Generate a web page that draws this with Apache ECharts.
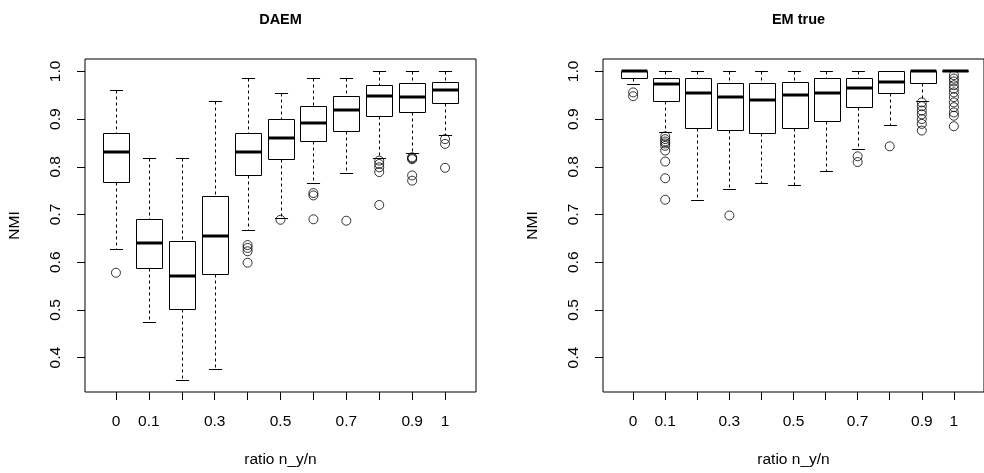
<!DOCTYPE html>
<html><head><meta charset="utf-8">
<script src="https://cdn.jsdelivr.net/npm/echarts@6/dist/echarts.min.js"></script>
<style>html,body{margin:0;padding:0;background:#fff}#c{width:984px;height:473px}</style>
</head><body><div id="c"></div>
<script>
// ---- data ----
const ratios = ['0','0.1','0.2','0.3','0.4','0.5','0.6','0.7','0.8','0.9','1'];
const shownTickLabels = ['0','0.1','0.3','0.5','0.7','0.9','1'];
const yTicks = [0.4, 0.5, 0.6, 0.7, 0.8, 0.9, 1.0];
const panelTitles = ['DAEM', 'EM true'];
const xTitle = 'ratio n_y/n';
const yTitle = 'NMI';

const daemLow  = [0.628, 0.475, 0.354, 0.377, 0.668, 0.693, 0.766, 0.788, 0.819, 0.830, 0.867];
const daemQ1   = [0.768, 0.588, 0.501, 0.576, 0.782, 0.816, 0.854, 0.875, 0.906, 0.914, 0.933];
const daemMed  = [0.831, 0.641, 0.572, 0.655, 0.831, 0.860, 0.892, 0.920, 0.948, 0.947, 0.961];
const daemQ3   = [0.870, 0.690, 0.644, 0.738, 0.870, 0.900, 0.927, 0.948, 0.972, 0.975, 0.977];
const daemHigh = [0.960, 0.819, 0.818, 0.937, 0.987, 0.955, 0.987, 0.987, 1.000, 1.000, 1.000];
const daemOut  = [[0.578], [], [], [], [0.636, 0.630, 0.623, 0.599], [0.689], [0.745, 0.740, 0.690], [0.687],
                  [0.813, 0.806, 0.799, 0.789, 0.720], [0.820, 0.818, 0.816, 0.782, 0.771], [0.858, 0.848, 0.798]];

const emLow  = [0.974, 0.872, 0.730, 0.754, 0.766, 0.762, 0.791, 0.837, 0.887, 0.937, 1.000];
const emQ1   = [0.987, 0.939, 0.881, 0.877, 0.871, 0.881, 0.897, 0.925, 0.955, 0.975, 1.000];
const emMed  = [1.000, 0.974, 0.954, 0.946, 0.940, 0.950, 0.955, 0.965, 0.978, 1.000, 1.000];
const emQ3   = [1.000, 0.987, 0.987, 0.975, 0.975, 0.978, 0.987, 0.987, 1.000, 1.000, 1.000];
const emHigh = [1.000, 1.000, 1.000, 1.000, 1.000, 1.000, 1.000, 1.000, 1.000, 1.000, 1.000];
const emOut  = [[0.956, 0.948], [0.864, 0.858, 0.853, 0.849, 0.844, 0.834, 0.811, 0.776, 0.731], [], [0.698], [], [], [],
                [0.822, 0.810], [0.843], [0.935, 0.927, 0.918, 0.910, 0.900, 0.890, 0.876],
                [0.992, 0.985, 0.979, 0.971, 0.964, 0.956, 0.946, 0.935, 0.925, 0.914, 0.907, 0.885]];

// ---- build ----
const FONT = '"Liberation Sans", Arial, Helvetica, sans-serif';
const pos = ratios.map((r, i) => i + 1);
const shownPos = shownTickLabels.map(l => ratios.indexOf(l) + 1);

function boxData(low, q1, med, q3, high) {
  return ratios.map((r, i) => [i + 1, low[i], q1[i], med[i], q3[i], high[i]]);
}
function outData(out) {
  const d = [];
  out.forEach((arr, i) => arr.forEach(v => d.push([i + 1, v])));
  return d;
}
function renderBox(params, api) {
  const x = api.value(0);
  const c = v => api.coord([x, v]);
  const bw = api.size([0.8, 0])[0];
  const sw = api.size([0.4, 0])[0];
  const pLow = c(api.value(1)), pQ1 = c(api.value(2)), pMed = c(api.value(3)), pQ3 = c(api.value(4)), pHigh = c(api.value(5));
  const cx = Math.round(pMed[0]) + 0.5;
  const ry = y => Math.round(y) + 0.5;
  const solid = {stroke: '#000', lineWidth: 1};
  const dashed = {stroke: '#000', lineWidth: 1, lineDash: [3, 3]};
  const line = (x1, y1, x2, y2, style) => ({type: 'line', shape: {x1, y1, x2, y2}, style});
  const bx = Math.round(cx - bw / 2) + 0.5, bW = Math.round(bw);
  return {type: 'group', children: [
    line(cx, ry(pHigh[1]), cx, ry(pQ3[1]), dashed),
    line(cx, ry(pQ1[1]), cx, ry(pLow[1]), dashed),
    line(cx - sw / 2, ry(pHigh[1]), cx + sw / 2, ry(pHigh[1]), solid),
    line(cx - sw / 2, ry(pLow[1]), cx + sw / 2, ry(pLow[1]), solid),
    {type: 'rect', shape: {x: bx, y: ry(pQ3[1]), width: bW, height: ry(pQ1[1]) - ry(pQ3[1])},
     style: {fill: '#fff', stroke: '#000', lineWidth: 1}},
    line(bx, Math.round(pMed[1]), bx + bW, Math.round(pMed[1]), {stroke: '#000', lineWidth: 3})
  ]};
}

const grids = [
  {left: 85, top: 59, width: 391, height: 334},
  {left: 603, top: 59, width: 391, height: 334}
];
const textStyle = {color: '#000', fontSize: 15.5, fontFamily: FONT};

const option = {
  animation: false,
  grid: grids.map(g => Object.assign({show: true, borderColor: '#000', borderWidth: 1, backgroundColor: 'transparent'}, g)),
  xAxis: [0, 1].map(i => ({
    type: 'value', gridIndex: i, min: 0.06, max: 11.94,
    splitLine: {show: false}, axisLine: {show: false},
    axisTick: {show: true, customValues: pos, length: 8, lineStyle: {color: '#000'}},
    axisLabel: Object.assign({customValues: shownPos, formatter: v => ratios[Math.round(v) - 1], margin: 22}, textStyle),
    name: xTitle, nameLocation: 'middle', nameGap: 60, nameTextStyle: textStyle
  })),
  yAxis: [0, 1].map(i => ({
    type: 'value', gridIndex: i, min: 0.328, max: 1.026,
    splitLine: {show: false}, axisLine: {show: false},
    axisTick: {show: true, customValues: yTicks, length: 8, lineStyle: {color: '#000'}},
    axisLabel: Object.assign({customValues: yTicks, formatter: v => v.toFixed(1), rotate: 90, margin: 21}, textStyle),
    name: yTitle, nameLocation: 'middle', nameGap: 62, nameTextStyle: textStyle
  })),
  graphic: panelTitles.map((t, i) => ({
    type: 'text',
    x: grids[i].left + grids[i].width / 2, y: 20,
    style: {text: t, textAlign: 'center', textVerticalAlign: 'middle', fill: '#000', font: 'bold 14.5px ' + FONT}
  })),
  series: [
    {type: 'custom', xAxisIndex: 0, yAxisIndex: 0, renderItem: renderBox, encode: {x: 0, y: [1, 2, 3, 4, 5]},
     data: boxData(daemLow, daemQ1, daemMed, daemQ3, daemHigh), silent: true, clip: false},
    {type: 'custom', xAxisIndex: 1, yAxisIndex: 1, renderItem: renderBox, encode: {x: 0, y: [1, 2, 3, 4, 5]},
     data: boxData(emLow, emQ1, emMed, emQ3, emHigh), silent: true, clip: false},
    {type: 'scatter', xAxisIndex: 0, yAxisIndex: 0, data: outData(daemOut), symbol: 'circle', symbolSize: 9,
     itemStyle: {color: 'rgba(0,0,0,0)', borderColor: '#000', borderWidth: 1}, silent: true},
    {type: 'scatter', xAxisIndex: 1, yAxisIndex: 1, data: outData(emOut), symbol: 'circle', symbolSize: 9,
     itemStyle: {color: 'rgba(0,0,0,0)', borderColor: '#000', borderWidth: 1}, silent: true}
  ]
};
const chart = echarts.init(document.getElementById('c'), null, {renderer: 'canvas'});
chart.setOption(option);
</script></body></html>
